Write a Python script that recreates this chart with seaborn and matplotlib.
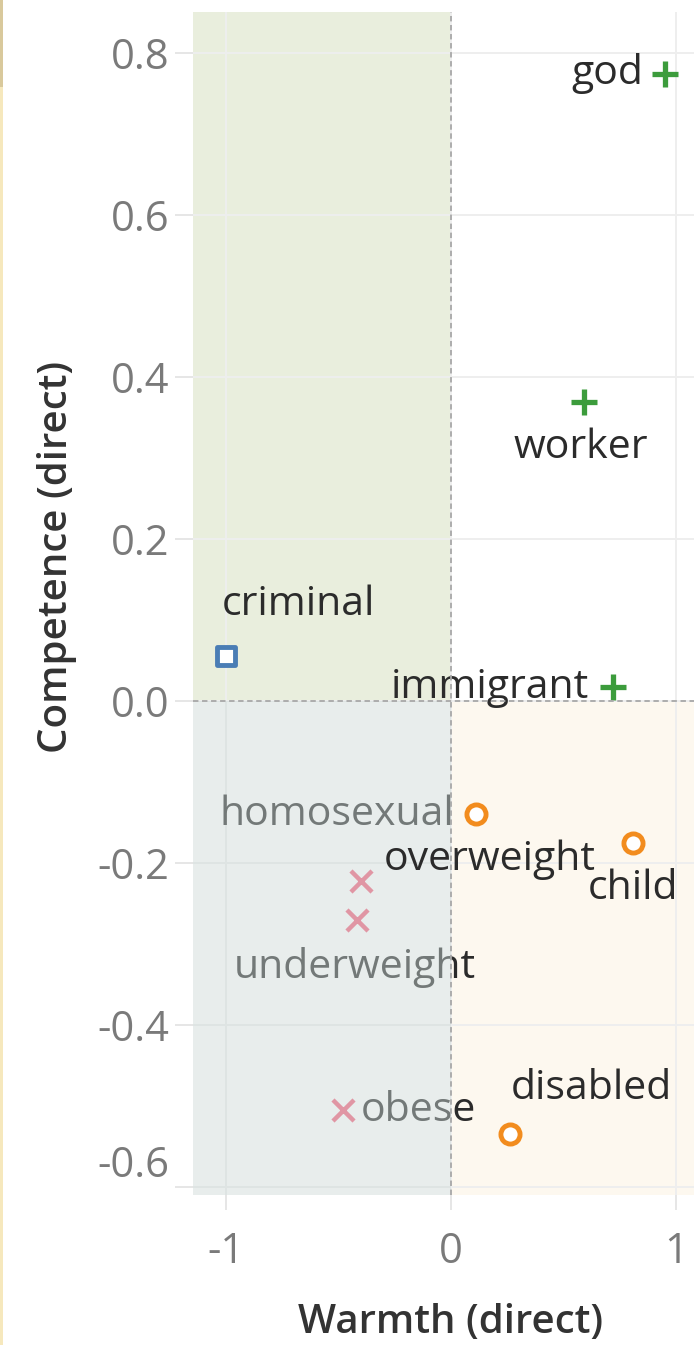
import matplotlib
matplotlib.use("Agg")
import matplotlib.pyplot as plt
from matplotlib.patches import Rectangle
import pandas as pd
import seaborn as sns

# data
groups = ["god", "worker", "immigrant", "criminal", "homosexual", "child",
          "disabled", "overweight", "underweight", "obese"]
warmth = [0.95, 0.59, 0.72, -1.00, 0.11, 0.81, 0.26, -0.40, -0.42, -0.48]
competence = [0.775, 0.37, 0.018, 0.056, -0.14, -0.175, -0.535, -0.222, -0.27, -0.505]
cluster = ["plus", "plus", "plus", "square", "circle", "circle", "circle",
           "cross", "cross", "cross"]
xticks = [-1, 0, 1]
yticks = [-0.6, -0.4, -0.2, 0.0, 0.2, 0.4, 0.6, 0.8]

df = pd.DataFrame({"group": groups, "warmth": warmth,
                   "competence": competence, "cluster": cluster})

sns.set_theme(style="white")
plt.rcParams["font.family"] = ["Open Sans", "DejaVu Sans"]

fig = plt.figure(figsize=(6.94, 13.45), dpi=100)
ax = fig.add_axes([0.278, 0.1115, 0.722, 0.8795])
ax.set_xlim(-1.147, 1.08)
ax.set_ylim(-0.61, 0.851)

# quadrant shading
ax.axvspan(-1.147, 0, ymin=0.4176, ymax=1, color="#e9eedd", lw=0, zorder=0.1)
ax.axvspan(0, 1.08, ymin=0, ymax=0.4176, color="#fdf8ef", lw=0, zorder=0.1)

ax.set_axisbelow(True)
ax.grid(True, color="#eeeeee", lw=1.4)
ax.set_xticks(xticks)
ax.set_yticks(yticks)
ax.set_xticklabels(["-1", "0", "1"])
ax.set_yticklabels(["-0.6", "-0.4", "-0.2", "0.0", "0.2", "0.4", "0.6", "0.8"])
ax.tick_params(axis="both", colors="#e2e2e2", labelcolor="#7a7a7a", labelsize=30)
ax.tick_params(axis="y", length=13, width=1.2, pad=4, left=True)
ax.tick_params(axis="x", length=11, width=1.2, pad=15, bottom=True)
ax.get_yticklabels()[0].set_va("bottom")
for s in ax.spines.values():
    s.set_visible(False)

styles = {
    "plus": dict(marker="+", color="#3c9c3c", linewidth=3.8, s=340),
    "square": dict(marker="s", color="white", edgecolor="#4a7db5", linewidth=3.5, s=170),
    "circle": dict(marker="o", color="white", edgecolor="#f28c1e", linewidth=3.5, s=190),
    "cross": dict(marker="x", color="#f2607c", linewidth=3.2, s=230),
}
for key, sub in df.groupby("cluster"):
    sns.scatterplot(data=sub, x="warmth", y="competence", ax=ax, zorder=3,
                    legend=False, **styles[key])

# label placement (pixel offsets from each point)
label_pos = {
    "god": (-22, 0, "right"),
    "worker": (-3, -46, "center"),
    "immigrant": (-24, -1, "right"),
    "criminal": (-4, 51, "left"),
    "homosexual": (-22, 0, "right"),
    "child": (-46, -46, "left"),
    "disabled": (1, 46, "left"),
    "overweight": (23, 21, "left"),
    "underweight": (-2, -48, "center"),
    "obese": (18, -1, "left"),
}
for g, x, y in zip(groups, warmth, competence):
    dx, dy, ha = label_pos[g]
    ax.annotate(g, (x, y), xytext=(dx, dy), textcoords="offset pixels",
                ha=ha, va="center", fontsize=29.5, color="#2b2b2b",
                zorder=7 if g == "overweight" else 4)

# translucent wash over the lower-left quadrant (lightens marks beneath it)
ax.add_patch(Rectangle((-1.147, -0.61), 1.147, 0.61, facecolor="#ccd9d7",
                       alpha=0.45, lw=0, zorder=5))

ax.axvline(0, color="#a8a8a8", lw=1.3, ls=(0, (3, 2)), zorder=6)
ax.axhline(0, color="#a8a8a8", lw=1.3, ls=(0, (3, 2)), zorder=6)

ax.set_xlabel("Warmth (direct)", fontsize=29, color="#333333", fontweight="semibold")
ax.set_ylabel("Competence (direct)", fontsize=29, color="#333333", fontweight="semibold")
ax.xaxis.set_label_coords(0.515, -0.091)
ax.yaxis.set_label_coords(-0.232, 0.539)

# thin frame strip on the left edge of the screenshot
fig.patches.append(Rectangle((0, 0.935), 0.005, 0.065, transform=fig.transFigure,
                             facecolor="#d9c99c", lw=0))
fig.patches.append(Rectangle((0, 0), 0.005, 0.935, transform=fig.transFigure,
                             facecolor="#f6e8bd", lw=0))

fig.savefig("out.png", dpi=100)
